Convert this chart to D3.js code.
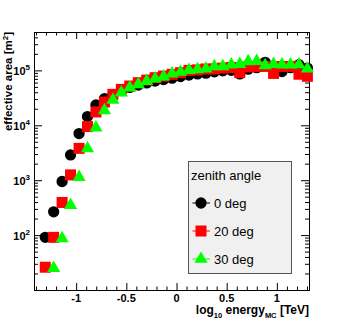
<!DOCTYPE html>
<html>
<head>
<meta charset="utf-8">
<script src="https://cdn.jsdelivr.net/npm/d3@7"></script>
<style>
  body { margin: 0; background: #fff; }
  svg { display: block; font-family: "Liberation Sans", Arial, sans-serif; }
</style>
</head>
<body>
<div id="chart"></div>
<script>
// log10 of MC energy (bin centres)
var energies = [-1.308, -1.224, -1.140, -1.056, -0.971, -0.887, -0.803, -0.718,
  -0.634, -0.550, -0.466, -0.381, -0.297, -0.213, -0.129, -0.044,
  0.040, 0.124, 0.209, 0.293, 0.377, 0.461, 0.546, 0.630,
  0.714, 0.799, 0.883, 0.967, 1.051, 1.136, 1.220, 1.304];

// effective area [m^2] per zenith angle
var area0 = [91, 265, 946, 2880, 7060, 14400, 23400, 30500,
  36000, 43000, 49000, 54000, 59000, 64000, 68000, 72000,
  77000, 82000, 86000, 89000, 94000, 98000, 100000, 86000,
  105000, 112000, 140000, 118000, 95000, 112000, 127000, 110000];
var area20 = [26, 91, 393, 1250, 3800, 9460, 17500, 26500,
  36600, 45100, 51900, 59700, 66600, 73600, 78700, 84600,
  90800, 100000, 102000, 106000, 106000, 110000, 113000, 91000,
  116000, 118000, 118000, 88000, 118000, 118000, 85000, 78000];
var area30 = [null, 25, 87, 351, 1135, 3770, 9080, 18700,
  28800, 39300, 48400, 55600, 63800, 70700, 76800, 87100,
  93300, 101000, 104000, 107000, 118000, 118000, 127000, 130000,
  146000, 147000, 123000, 130000, 127000, 127000, 127000, 107000];

var xMajor = [-1, -0.5, 0, 0.5, 1];
var yMajor = [1e2, 1e3, 1e4, 1e5];

var series = [
  { name: '0 deg', values: area0, color: '#000000', shape: d3.symbolCircle, size: 100 },
  { name: '20 deg', values: area20, color: '#ff0000', shape: d3.symbolSquare, size: 121 },
  { name: '30 deg', values: area30, color: '#00ff00', shape: d3.symbolTriangle, size: 75 }
];

var W = 343, H = 323;
var frame = { left: 34, top: 32, right: 309, bottom: 290 };

var svg = d3.select('#chart').append('svg')
  .attr('width', W)
  .attr('height', H);

var x = d3.scaleLinear().domain([-1.42, 1.32]).range([frame.left, frame.right]);
var y = d3.scaleLog().domain([10, 5e5]).range([frame.bottom, frame.top]);

// minor ticks
var xMinor = d3.range(-14, 14).map(function(d){ return d / 10; })
  .filter(function(d){ return xMajor.indexOf(d) < 0; });
var yMinor = [];
[10, 100, 1000, 10000, 100000].forEach(function(dec){
  for (var k = 2; k <= 9; k++) {
    if (dec * k <= 5e5) yMinor.push(dec * k);
  }
});

function tickAxis(axisFn, scale, vals, size, transform) {
  var g = svg.append('g')
    .attr('transform', transform)
    .call(axisFn(scale).tickValues(vals).tickSize(size).tickFormat(''));
  g.select('.domain').remove();
  g.selectAll('line').attr('stroke', '#000').attr('stroke-width', 1);
  return g;
}

tickAxis(d3.axisBottom, x, xMajor, -7, 'translate(0,' + frame.bottom + ')');
tickAxis(d3.axisBottom, x, xMinor, -3.5, 'translate(0,' + frame.bottom + ')');
tickAxis(d3.axisTop, x, xMajor, -7, 'translate(0,' + frame.top + ')');
tickAxis(d3.axisTop, x, xMinor, -3.5, 'translate(0,' + frame.top + ')');
tickAxis(d3.axisLeft, y, yMajor, -8, 'translate(' + frame.left + ',0)');
tickAxis(d3.axisLeft, y, yMinor, -4, 'translate(' + frame.left + ',0)');
tickAxis(d3.axisRight, y, yMajor, -8, 'translate(' + frame.right + ',0)');
tickAxis(d3.axisRight, y, yMinor, -4, 'translate(' + frame.right + ',0)');

// frame
svg.append('rect')
  .attr('x', frame.left + 0.5)
  .attr('y', frame.top + 0.5)
  .attr('width', frame.right - frame.left)
  .attr('height', frame.bottom - frame.top)
  .attr('fill', 'none')
  .attr('stroke', '#000');

// x tick labels
svg.selectAll('.xlab').data(xMajor).enter().append('text')
  .attr('class', 'xlab')
  .attr('x', function(d){ return x(d); })
  .attr('y', 302)
  .attr('text-anchor', 'middle')
  .attr('font-size', 11)
  .attr('font-weight', 'bold')
  .text(function(d){ return d; });

// y tick labels 10^n
var ylab = svg.selectAll('.ylab').data(yMajor).enter().append('text')
  .attr('class', 'ylab')
  .attr('x', 30)
  .attr('y', function(d){ return y(d) + 4.5; })
  .attr('text-anchor', 'end')
  .attr('font-size', 11)
  .attr('font-weight', 'bold');
ylab.append('tspan').text('10');
ylab.append('tspan')
  .attr('dy', -5)
  .attr('font-size', 8)
  .text(function(d){ return Math.round(Math.log10(d)); });

// x title
var xt = svg.append('text')
  .attr('x', frame.right)
  .attr('y', 314)
  .attr('text-anchor', 'end')
  .attr('font-size', 12)
  .attr('font-weight', 'bold');
xt.append('tspan').text('log');
xt.append('tspan').attr('dy', 4).attr('font-size', 7.5).text('10');
xt.append('tspan').attr('dy', -4).text(' energy');
xt.append('tspan').attr('dy', 4).attr('font-size', 7.5).text('MC');
xt.append('tspan').attr('dy', -4).text(' [TeV]');

// y title
var yt = svg.append('text')
  .attr('transform', 'translate(12,' + frame.top + ') rotate(-90)')
  .attr('text-anchor', 'end')
  .attr('font-size', 11.5)
  .attr('font-weight', 'bold');
yt.append('tspan').text('effective area [m');
yt.append('tspan').attr('dy', -4).attr('font-size', 8).text('2');
yt.append('tspan').attr('dy', 4).text(']');

// markers
series.forEach(function(s){
  var pts = energies.map(function(e, i){ return { e: e, v: s.values[i] }; })
    .filter(function(d){ return d.v != null; });
  svg.append('g').selectAll('path').data(pts).enter().append('path')
    .attr('transform', function(d){ return 'translate(' + x(d.e) + ',' + y(d.v) + ')'; })
    .attr('d', d3.symbol().type(s.shape).size(s.size))
    .attr('fill', s.color);
});

// legend
var leg = svg.append('g');
leg.append('rect')
  .attr('x', 188.5)
  .attr('y', 161.5)
  .attr('width', 103)
  .attr('height', 112)
  .attr('fill', '#f0f0f0')
  .attr('stroke', '#555');
leg.append('text')
  .attr('x', 191)
  .attr('y', 180)
  .attr('font-size', 13)
  .text('zenith angle');
var rows = leg.selectAll('.entry').data(series).enter().append('g')
  .attr('transform', function(d, i){ return 'translate(0,' + (203 + i * 28) + ')'; });
rows.append('line')
  .attr('x1', 192.5).attr('x2', 210)
  .attr('stroke', function(d){ return d.color; });
rows.append('path')
  .attr('transform', 'translate(201,0)')
  .attr('d', function(d){ return d3.symbol().type(d.shape).size(d.size)(); })
  .attr('fill', function(d){ return d.color; });
rows.append('text')
  .attr('x', 214)
  .attr('y', 4.5)
  .attr('font-size', 13)
  .text(function(d){ return d.name; });
</script>
</body>
</html>
